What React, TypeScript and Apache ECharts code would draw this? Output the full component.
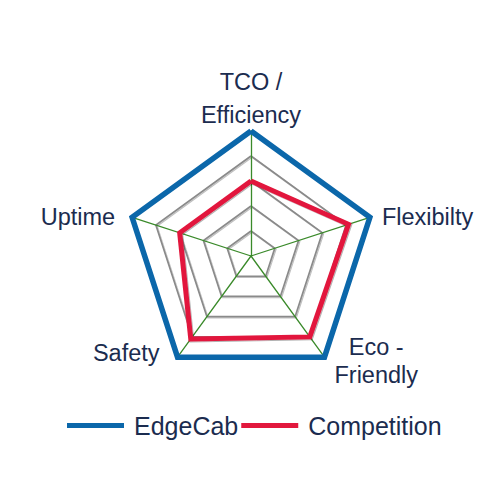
import { useEffect, useRef } from 'react'
import * as echarts from 'echarts'

const indicatorNames = ['TCO /\nEfficiency', 'Uptime', 'Safety', 'Eco -\nFriendly', 'Flexibilty']
const indicatorMax = [5, 5, 5, 5, 5]
const edgeCabValues = [5, 5, 5, 5, 5]
const competitionValues = [3, 3, 4.1, 4.0, 4.1]
const seriesNames = ['EdgeCab', 'Competition']

const NAVY = '#1b2c4f'
const BLUE = '#0b67aa'
const RED = '#e2183d'
const FONT = '"Liberation Sans", Arial, sans-serif'
const NAME_SIZE = 23.5

const txt = { fontSize: NAME_SIZE, fontFamily: FONT, color: NAVY }

// how each axis name is laid out around its vertex
const nameStyles = ['top', 'left', 'safety', 'eco', 'right']

function formatName(name: string, i: number) {
  const style = nameStyles[i]
  const lines = name.split('\n')
  if (style === 'top') return lines.map((l) => `{top|${l}}`).join('\n')
  if (style === 'eco') return ['{sp| }', ...lines.map((l) => `{eco|${l}}`)].join('\n')
  if (style === 'safety') return `{safety|${name}}\n{sp| }`
  return `{${style}|${name}}`
}

export default function App() {
  const ref = useRef<HTMLDivElement>(null)

  useEffect(() => {
    if (!ref.current) return
    const chart = echarts.init(ref.current, undefined, { renderer: 'svg' })

    const option: echarts.EChartsOption = {
      animation: false,
      backgroundColor: '#ffffff',
      legend: {
        top: 408,
        left: 62,
        data: seriesNames,
        icon: 'rect',
        itemWidth: 57,
        itemHeight: 5,
        itemGap: 3,
        textStyle: { fontSize: 25, color: NAVY, fontFamily: FONT, padding: [0, 0, 0, 5] },
      },
      radar: {
        center: [251, 256],
        radius: 125,
        startAngle: 90,
        splitNumber: 5,
        shape: 'polygon',
        nameGap: 0,
        indicator: indicatorNames.map((name, i) => ({ name, max: indicatorMax[i], min: 0 })),
        axisName: {
          ...txt,
          formatter: (name?: string, ind?: any) => formatName(name ?? '', indicatorNames.indexOf(ind?.name ?? name)),
          rich: {
            top: { ...txt, lineHeight: 33, align: 'center' },
            left: { ...txt, lineHeight: 30, padding: [0, 17, 0, 0] },
            right: { ...txt, lineHeight: 30, padding: [0, 0, 0, 12] },
            safety: { ...txt, lineHeight: 30, padding: [0, 18, 0, 0] },
            eco: { ...txt, lineHeight: 28, align: 'center', padding: [0, 0, 0, 10] },
            sp: { fontSize: 1, lineHeight: 8, color: 'rgba(0,0,0,0)' },
          },
        },
        axisLine: { lineStyle: { color: '#3a8a2a', width: 1.3 } },
        splitLine: {
          lineStyle: {
            color: '#8a8a8a',
            width: 1.7,
            shadowColor: 'rgba(0,0,0,0.25)',
            shadowOffsetX: 1,
            shadowOffsetY: 1,
            shadowBlur: 1,
          },
        },
        splitArea: { show: false },
        axisTick: { show: false },
        axisLabel: { show: false },
      },
      series: [
        {
          type: 'radar',
          symbol: 'none',
          data: [
            {
              name: seriesNames[0],
              value: edgeCabValues,
              lineStyle: { color: BLUE, width: 5.5, join: 'miter' },
              itemStyle: { color: BLUE },
            },
            {
              name: seriesNames[1],
              value: competitionValues,
              lineStyle: {
                color: RED,
                width: 5,
                join: 'miter',
                shadowColor: 'rgba(0,0,0,0.3)',
                shadowOffsetX: 1,
                shadowOffsetY: 1,
                shadowBlur: 1,
              },
              itemStyle: { color: RED },
            },
          ],
        },
      ],
    }

    chart.setOption(option)
    return () => chart.dispose()
  }, [])

  return (
    <div
      ref={ref}
      style={{ position: 'fixed', left: 0, top: 0, width: 490, height: 487, background: '#fff' }}
    />
  )
}
